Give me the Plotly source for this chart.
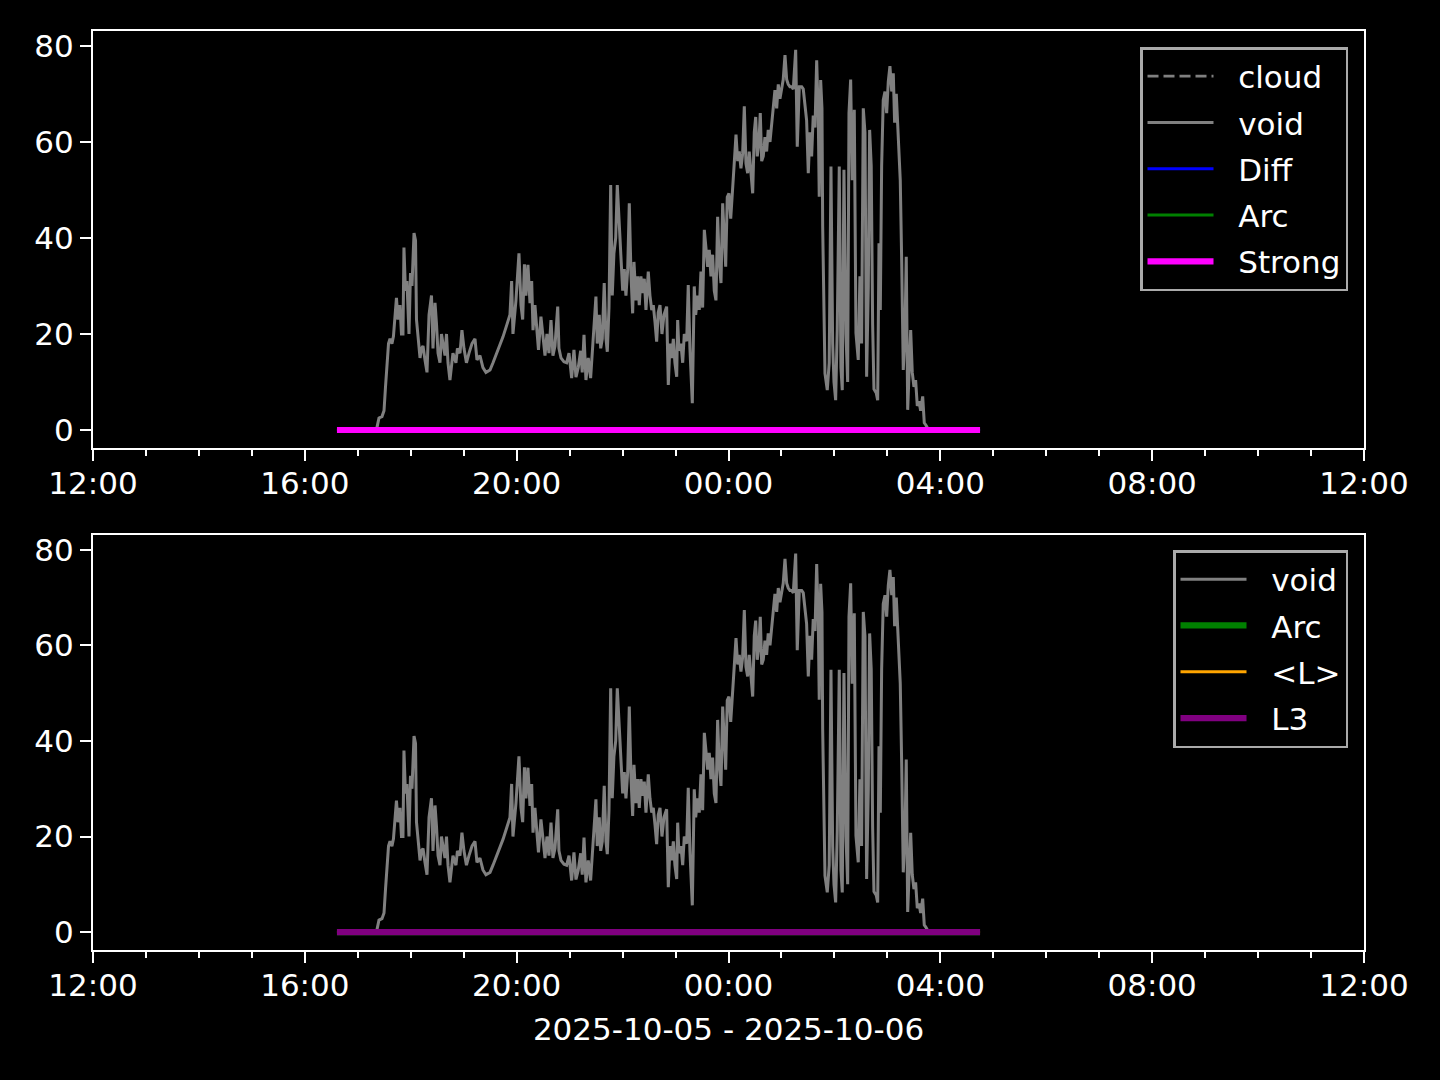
import pandas as pd
import plotly.graph_objects as go

BASE = pd.Timestamp("2025-10-05 12:00")

# minutes after 2025-10-05 12:00
void_minutes = [
    321.7, 324.0, 327.4, 329.7, 331.4, 333.1, 334.8, 336.5, 338.7, 340.4,
    342.1, 343.8, 345.5, 347.8, 349.5, 351.2, 352.3, 354.0, 355.7, 358.0,
    359.7, 361.4, 363.7, 365.4, 366.5, 368.2, 370.5, 372.2, 373.9, 376.1,
    378.4, 380.7, 383.5, 385.2, 387.5, 389.2, 390.9, 393.1, 394.8, 396.5,
    398.8, 400.5, 402.2, 404.4, 406.1, 407.8, 411.2, 412.9, 415.8, 418.0,
    420.3, 423.1, 426.0,
    429.4, 432.8, 435.0, 438.4, 441.8, 445.2, 449.8, 453.2, 457.7, 461.1,
    464.5, 469.0, 472.4, 474.3, 475.8, 479.2, 482.6, 484.9, 486.8, 488.8,
    490.5, 492.8, 495.1, 497.0, 498.5, 500.7, 503.0, 504.7, 507.5, 509.8,
    512.1, 514.3, 516.6, 518.9, 521.1, 523.4, 526.5, 527.9, 530.2, 533.6,
    536.6, 539.3, 542.3, 544.9, 547.2, 549.8, 552.5, 554.3, 556.3, 558.5,
    561.1, 563.8, 566.1, 567.6, 569.8, 571.3, 573.6, 575.2, 577.0, 579.2,
    581.2, 582.7, 584.6, 586.5, 588.3, 590.2, 592.2, 594.0, 595.9, 597.8,
    600.1, 601.9, 603.8, 605.8, 607.6, 609.5, 611.4, 612.9, 615.2, 617.1,
    618.9, 620.8, 622.8, 624.6, 626.5, 629.1, 631.0, 633.0, 634.8, 636.7,
    638.6, 640.4,
    642.4, 644.6, 646.9, 649.9, 651.8, 653.7, 655.6, 657.5, 659.3, 661.3,
    662.4, 663.9, 666.1, 668.1, 669.9, 672.6, 674.4, 676.3, 679.0, 681.2,
    682.8, 685.1, 686.9, 688.8, 690.7, 692.6, 694.1, 696.4, 698.2, 700.1,
    702.0, 703.9, 705.8, 707.7, 709.5, 711.5, 713.4, 715.2, 716.8, 718.6,
    720.5, 722.5, 724.3, 726.5, 728.5, 730.4, 732.2, 734.1, 736.0, 737.9,
    739.8, 741.7, 743.5, 745.5, 747.4, 749.2,
    750.8, 752.6, 754.5, 756.0, 757.6, 759.4, 761.3, 763.2, 765.0, 767.0,
    768.9, 770.7, 772.6, 774.6, 776.4, 778.3, 780.2, 782.0, 784.0, 785.9,
    787.7, 789.6, 791.6, 793.4, 796.1, 797.9, 800.2, 802.9, 804.7, 806.6,
    808.5, 810.4, 812.3, 814.2, 816.0, 818.0, 819.9, 821.7, 822.8, 824.4,
    825.9, 826.7, 828.1, 829.3, 831.9, 834.1, 836.1, 838.0, 839.5, 841.4,
    843.2, 845.5, 847.4, 848.9, 850.8, 853.1, 855.0, 856.5,
    858.4, 860.2, 862.5, 864.4, 867.0, 868.9, 870.8, 872.7, 874.6, 876.5,
    878.4, 879.9, 881.7, 883.3, 884.8, 887.4, 889.0, 890.5, 892.0, 893.5,
    895.3, 897.3, 899.2, 901.0, 902.9, 904.9, 906.7, 908.2, 910.1, 911.6,
    913.1, 914.6, 916.2, 918.0, 919.9, 921.4, 923.0, 924.8, 926.4, 928.2,
    930.1, 932.0, 933.9, 935.8, 937.7, 940.0, 941.8, 943.7, 945.2,
]
void_values = [
    0.5, 2.5, 2.8, 4, 9, 14, 18, 19, 18, 19.5,
    23.5, 27.5, 23, 26, 20, 20, 38, 29, 31, 20,
    32.7, 30, 41, 39.5, 23, 20, 15, 17, 17.5, 14.6,
    12, 24, 28, 17, 26.5, 22, 16, 14, 20, 18,
    15.5, 20, 14, 10.4, 14, 16, 14, 17, 16, 20.8,
    17, 14, 16,
    18, 19, 14.6, 15.5, 13, 12, 12.5, 14, 16, 17.5,
    19.4, 22, 24, 31, 20, 27, 36.8, 26, 23, 34.5,
    28, 34.4, 26.4, 31, 20.8, 26, 20, 16.7, 23.6, 19,
    15.5, 20, 16, 22.9, 15.5, 17.5, 25.7, 17, 15, 14.2,
    14, 16, 10.8, 16.7, 11, 13, 16.5, 12, 19.8, 10.4,
    15, 10.8, 16.7, 22.3, 27.8, 18, 24, 17, 19, 30.6,
    19, 16.3, 25.5, 51, 28, 36.8, 40, 51, 44, 34.8,
    29, 33.5, 28, 33.5, 47.2, 32.5, 24.3, 35, 27, 32,
    26, 32, 28.5, 31.5, 25, 33, 28, 25, 26, 22.5,
    18.4, 24.5,
    26, 20, 24, 25.7, 9.4, 18, 15, 19, 14, 11.1,
    22.9, 16.5, 18, 14, 20, 18.5, 30.2, 17, 5.6, 29.9,
    24, 28, 25, 33, 25.5, 41.7, 38, 34, 37.5, 32,
    36.5, 29, 27, 44.4, 35, 30.6, 47.2, 41.5, 34, 48.5,
    49.3, 44, 48.5, 55.6, 61.5, 56, 58, 54.5, 57.5, 67.4,
    55.5, 53.5, 58, 52.5, 49.3, 62,
    65.2, 57, 60, 66, 56, 57, 61, 58, 62.5, 60,
    64, 66.5, 70.8, 67, 72, 69, 71.5, 73, 78.1, 73,
    72, 71.5, 71.5, 71, 79.2, 59, 71.5, 71.5, 71, 68,
    64.5, 53.5, 62, 57, 65.5, 63, 77, 65.5, 48.6, 72.9,
    67, 42.4, 27, 11.8, 8.3, 14, 54.9, 18, 10, 6.2,
    21, 54.9, 13, 8.3, 54.2, 20, 10, 66,
    73, 52, 66.7, 20.2, 14.6, 32, 18, 67, 62, 11.1,
    30, 62.5, 55, 22, 8.5, 7.7, 6.2, 38.9, 25, 55,
    68.7, 70.5, 66, 72.5, 75.8, 70.5, 74.3, 64, 70, 63,
    59.8, 52, 35.4, 12.5, 20, 36.1, 4.2, 14, 20.8, 12,
    9, 10.4, 5, 6, 4, 7, 1.5, 1, 0.5,
]

# flat series (start / end of the run)
flat_minutes = [276.4, 1005.0]
cloud_values = [0, 0]
diff_values = [0, 0]
arc_values = [0, 0]
strong_values = [0, 0]
lavg_values = [0, 0]
l3_values = [0, 0]

x_range = ["2025-10-05 12:00", "2025-10-06 12:00"]
y_ticks = [0, 20, 40, 60, 80]
x_label = "2025-10-05 - 2025-10-06"

t_void = BASE + pd.to_timedelta(void_minutes, unit="min")
t_flat = BASE + pd.to_timedelta(flat_minutes, unit="min")

GRAY = "#808080"
THIN = 3.0
THICK = 6.2
PAD = "\u00a0\u00a0"  # gap between legend handle and label
fig = go.Figure()


def add(x, y, name, color, width, xa, ya, leg, dash="solid"):
    fig.add_trace(go.Scatter(
        x=x, y=y, name=PAD + name, mode="lines",
        line=dict(color=color, width=width, dash=dash),
        xaxis=xa, yaxis=ya, legend=leg, legendgroup=leg + name,
    ))


# top panel
add(t_flat, cloud_values, "cloud", GRAY, 2.6, "x", "y", "legend", dash="11px,5px")
add(t_void, void_values, "void", GRAY, THIN, "x", "y", "legend")
add(t_flat, diff_values, "Diff", "#0000ff", THIN, "x", "y", "legend")
add(t_flat, arc_values, "Arc", "#008000", THIN, "x", "y", "legend")
add(t_flat, strong_values, "Strong", "#ff00ff", THICK, "x", "y", "legend")
# bottom panel
add(t_void, void_values, "void", GRAY, THIN, "x2", "y2", "legend2")
add(t_flat, arc_values, "Arc", "#008000", THICK, "x2", "y2", "legend2")
add(t_flat, lavg_values, "&lt;L&gt;", "#ffa500", THIN, "x2", "y2", "legend2")
add(t_flat, l3_values, "L3", "#800080", THICK, "x2", "y2", "legend2")

FONT = dict(family="DejaVu Sans", size=31, color="white")

xcommon = dict(
    type="date", range=x_range, tick0=x_range[0], dtick=4 * 3600 * 1000,
    tickformat="%H:%M", ticks="outside", ticklen=11, tickwidth=2.2,
    tickcolor="white", showline=True, mirror=True, linecolor="white",
    linewidth=2.2, showgrid=False, zeroline=False, tickfont=FONT,
    ticklabelstandoff=-4,
    minor=dict(dtick=3600 * 1000, ticks="outside", ticklen=6, tickwidth=1.7,
               tickcolor="white", showgrid=False),
    domain=[93 / 1440, 1364 / 1440],
)
ycommon = dict(
    range=[-3.75, 83.1], tickvals=y_ticks, ticks="outside", ticklen=11,
    tickwidth=2.2, tickcolor="white", showline=True, mirror=True,
    linecolor="white", linewidth=2.2, showgrid=False, zeroline=False,
    tickfont=FONT,
)

legcommon = dict(
    font=FONT, bgcolor="black", bordercolor="#aaaaaa", borderwidth=2.5,
    xanchor="right", yanchor="top", x=1348 / 1440, traceorder="grouped",
    tracegroupgap=3, itemwidth=66,
)

fig.update_layout(
    width=1440, height=1080,
    paper_bgcolor="black", plot_bgcolor="black",
    font=FONT, showlegend=True,
    margin=dict(l=0, r=0, t=0, b=0, autoexpand=False),
    xaxis=dict(**xcommon, anchor="y"),
    yaxis=dict(**ycommon, anchor="x", domain=[1 - 448 / 1080, 1 - 31 / 1080]),
    xaxis2=dict(**xcommon, anchor="y2",
                title=dict(text=x_label, font=FONT, standoff=16)),
    yaxis2=dict(**ycommon, anchor="x2", domain=[1 - 950 / 1080, 1 - 535 / 1080]),
    legend=dict(**legcommon, y=1 - 47 / 1080),
    legend2=dict(**legcommon, y=1 - 550 / 1080),
)

fig.write_html("out.html", config={"displayModeBar": False},
               post_script="document.body.style.margin='0';")
